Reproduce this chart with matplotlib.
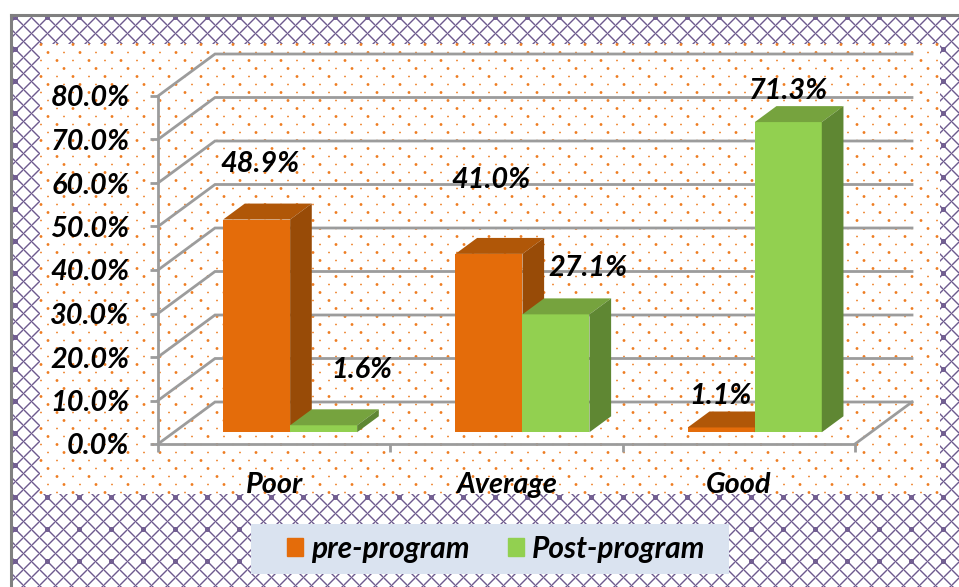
import numpy as np
import matplotlib
matplotlib.use("Agg")
import matplotlib.pyplot as plt
from matplotlib.patches import Polygon, Patch, Rectangle

categories = ["Poor", "Average", "Good"]
pre_program = [48.9, 41.0, 1.1]
post_program = [1.6, 27.1, 71.3]
series_names = ["pre-program", "Post-program"]
y_ticks = [0, 10, 20, 30, 40, 50, 60, 70, 80]

W, H = 959, 587
FONT = "Lato"
FS = 20.8
GRID = "#9c9c9c"
ORANGE = ("#e46c0a", "#b05708", "#984b07")
GREEN = ("#92d050", "#76a33e", "#5f8733")

fig = plt.figure(figsize=(W / 100, H / 100), dpi=100, facecolor="white")

# ---- decorative page texture (lattice frame + dotted panel) ----
bg = fig.add_axes([0, 0, 1, 1], zorder=0)
yy, xx = np.mgrid[0:H, 0:W]
P = 16.0
def tri(v):
    m = np.mod(v, P)
    return np.minimum(m, P - m)
dist = np.minimum(tri(xx + yy), tri(xx - yy - 14)) / np.sqrt(2)
lat = np.clip(1.2 - dist, 0, 1) * 0.85
# darker knots where the lattice lines cross, every second crossing
kx = np.mod(xx - 15, 32); kx = np.minimum(kx, 32 - kx)
ky = np.mod(yy - 17, 32); ky = np.minimum(ky, 32 - ky)
knot = (kx <= 2) & (ky <= 2)
lat = np.where(knot, np.maximum(lat, 0.8), lat)
purple = np.array([0.33, 0.24, 0.48])
img = np.ones((H, W, 3))
alpha = lat[..., None]
lat_img = img * (1 - alpha) + purple * alpha
panel = (xx >= 40) & (xx < 940) & (yy >= 44) & (yy < 494)
out = np.where(panel[..., None], np.ones_like(lat_img), lat_img)
out[:, :10] = 1
out[:14, :] = 1
bg.imshow(out, extent=(0, W, H, 0), interpolation="nearest", aspect="auto")
ys = np.arange(44.5, 494, 8)
dx, dy, ds = [], [], []
for k, yv in enumerate(ys):
    start = 41 if k % 2 == 0 else 48
    for j, xv in enumerate(np.arange(start, 940, 16)):
        dx.append(xv); dy.append(yv)
        ds.append(4.2 if (j + k // 2) % 2 == 0 else 1.6)
bg.scatter(dx, dy, s=ds, color="#ee7d22", linewidths=0)
bg.plot([10.5, 959], [15, 15], color="#808080", lw=2.2)
bg.plot([10.5, 10.5], [15, 587], color="#808080", lw=2.2)
bg.add_patch(Rectangle((251, 524), 478, 50, fc="#dae3f0", ec="none", zorder=4))
bg.set_xlim(0, W); bg.set_ylim(H, 0); bg.axis("off")

# ---- chart ----
L, R, B, T = 158, 855, 444, 96
ax = fig.add_axes([L / W, 1 - B / H, (R - L) / W, (B - T) / H], zorder=1)
ax.patch.set_alpha(0)
ax.set_xlim(0, 3); ax.set_ylim(0, 80)

DX, DY = 57 / ((R - L) / 3), 42 / ((B - T) / 80)
def proj(x, y, d):
    return x + d * DX, y + d * DY

# walls and floor
for v in y_ticks:
    x0, y0 = proj(0, v, 0); x1, y1 = proj(0, v, 1); x2, y2 = proj(3, v, 1)
    ax.plot([x0, x1, x2], [y0, y1, y2], color=GRID, lw=2, clip_on=False, zorder=1, solid_joinstyle="miter")
x0, y0 = proj(3, 0, 0); x1, y1 = proj(3, 0, 1)
ax.plot([x0, x1], [y0, y1], color=GRID, lw=2, clip_on=False, zorder=1)

for s in ("top", "right"):
    ax.spines[s].set_visible(False)
for s in ("left", "bottom"):
    ax.spines[s].set_color(GRID); ax.spines[s].set_linewidth(2)

ax.set_yticks(y_ticks)
ax.set_yticklabels([f"{v:.1f}%" for v in y_ticks], fontfamily=FONT, fontweight="bold",
                   fontstyle="italic", fontsize=FS, color="black")
ax.tick_params(axis="y", length=6, width=2, color=GRID, pad=14.5)
ax.set_xticks([0, 1, 2, 3]); ax.set_xticklabels([])
ax.set_xticks([0.5, 1.5, 2.5], minor=True)
ax.set_xticklabels(categories, minor=True, fontfamily=FONT, fontweight="bold",
                   fontstyle="italic", fontsize=FS, color="black")
ax.tick_params(axis="x", which="major", length=6, width=2, color=GRID)
ax.tick_params(axis="x", which="minor", length=0, pad=20)

# 3D-looking bars
W_BAR = 67 / ((R - L) / 3)
D0, D1 = 0.28, 0.66
label_off = {(0, 0): (3, 56), (1, 0): (38, 55), (0, 1): (2, 74), (1, 1): (32, 46), (0, 2): (-1, 31), (1, 2): (0, 31)}
for s, (vals, cols) in enumerate(((pre_program, ORANGE), (post_program, GREEN))):
    for i, v in enumerate(vals):
        xl = i + 0.5 - W_BAR + s * W_BAR
        xr = xl + W_BAR
        fx, base = proj(xl, 0, D0)
        fxr, _ = proj(xr, 0, D0)
        ax.bar(fx, v, W_BAR, bottom=base, align="edge", color=cols[0], zorder=3 + i * 3 + s * 0.5, clip_on=False)
        top = [proj(xl, v, D0), proj(xr, v, D0), proj(xr, v, D1), proj(xl, v, D1)]
        side = [proj(xr, 0, D0), proj(xr, v, D0), proj(xr, v, D1), proj(xr, 0, D1)]
        ax.add_patch(Polygon(top, closed=True, fc=cols[1], ec="none", zorder=3 + i * 3 + s * 0.5, clip_on=False))
        ax.add_patch(Polygon(side, closed=True, fc=cols[2], ec="none", zorder=3 + i * 3 + s * 0.5, clip_on=False))
        ax.annotate(f"{v:.1f}%", xy=((fx + fxr) / 2, base + v), xytext=label_off[(s, i)],
                    textcoords="offset pixels", ha="center", va="center", fontfamily=FONT,
                    fontweight="bold", fontstyle="italic", fontsize=FS, color="black",
                    zorder=20, annotation_clip=False)

leg = fig.legend(handles=[Patch(color=ORANGE[0], label=series_names[0]), Patch(color=GREEN[0], label=series_names[1])],
                 loc="center", bbox_to_anchor=(496 / W, 1 - 549 / H), ncol=2, frameon=False,
                 handlelength=0.55, handleheight=0.55,
                 handletextpad=0.25, columnspacing=1.3, borderpad=0, borderaxespad=0,
                 prop={"family": FONT, "weight": "bold", "style": "italic", "size": 21.5})
leg.set_zorder(5)

fig.savefig("out.png", dpi=100)
